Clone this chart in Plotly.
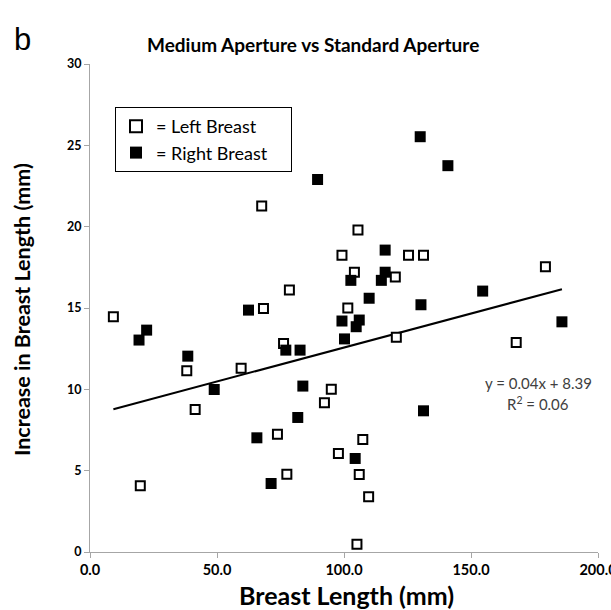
import plotly.graph_objects as go

# Left breast (open squares)
left_x = [9.2, 19.8, 38.1, 41.4, 59.5, 67.6, 68.3, 73.8, 76.2, 77.5, 78.5, 92.3, 95.0, 97.8,
          99.2, 101.5, 104.1, 105.5, 105.1, 106.0, 107.4, 109.7, 120.2, 120.6, 125.4, 131.3, 167.8, 179.3]
left_y = [14.46, 4.07, 11.14, 8.76, 11.29, 21.27, 14.97, 7.24, 12.82, 4.78, 16.1, 9.17, 10.0, 6.06,
          18.25, 15.0, 17.2, 19.8, 0.48, 4.77, 6.92, 3.39, 16.9, 13.2, 18.25, 18.25, 12.88, 17.53]

# Right breast (filled squares)
right_x = [19.3, 22.3, 38.5, 48.9, 62.4, 65.7, 71.3, 77.1, 82.7, 81.8, 83.8, 89.6, 99.2, 100.2,
           102.7, 104.4, 104.8, 106.0, 109.9, 114.7, 116.2, 116.2, 130.0, 130.3, 131.3, 140.9, 154.6, 185.8]
right_y = [13.03, 13.64, 12.04, 9.99, 14.87, 7.02, 4.21, 12.41, 12.41, 8.27, 10.2, 22.9, 14.2, 13.1,
           16.7, 5.75, 13.85, 14.26, 15.6, 16.7, 17.2, 18.56, 25.53, 15.2, 8.68, 23.75, 16.04, 14.15]

x_ticks = [0, 50, 100, 150, 200]
x_tick_labels = ["0.0", "50.0", "100.0", "150.0", "200.0"]
y_ticks = [0, 5, 10, 15, 20, 25, 30]

# Linear trend line (shown rounded as y = 0.04x + 8.39)
trend_slope = 0.0418
trend_intercept = 8.39
equation_text = "y = 0.04x + 8.39"
r2_text = "R<sup>2</sup> = 0.06"

all_x = left_x + right_x
trend_x = [min(all_x), max(all_x)]
trend_y = [trend_slope * v + trend_intercept for v in trend_x]

FONT = "Lato, 'Open Sans', sans-serif"
PAD = "\u00a0" * 4  # extra room on the right of the legend box

fig = go.Figure()
fig.add_trace(go.Scatter(
    x=trend_x, y=trend_y, mode="lines", line=dict(color="black", width=2),
    showlegend=False, hoverinfo="skip"))
fig.add_trace(go.Scatter(
    x=left_x, y=left_y, mode="markers", name="= Left Breast" + PAD,
    marker=dict(symbol="square", size=9, color="white", line=dict(color="black", width=2))))
fig.add_trace(go.Scatter(
    x=right_x, y=right_y, mode="markers", name="= Right Breast" + PAD,
    marker=dict(symbol="square", size=11, color="black", line=dict(color="black", width=0))))

L, R, T, B = 90, 13, 64, 58
W, H = 611, 610
pw = W - L - R
ph = H - T - B

def px_x(p):
    return (p - L) / pw

def px_y(p):
    return (H - B - p) / ph

fig.update_layout(
    width=W, height=H, autosize=False,
    margin=dict(l=L, r=R, t=T, b=B, pad=0, autoexpand=False),
    paper_bgcolor="white", plot_bgcolor="white",
    font=dict(family=FONT, color="black"),
    showlegend=True,
    legend=dict(x=px_x(115), y=px_y(107), xanchor="left", yanchor="top",
                bordercolor="black", borderwidth=1, bgcolor="white",
                font=dict(size=18, family=FONT, color="black"),
                itemsizing="constant", tracegroupgap=0),
    xaxis=dict(range=[0, 200], tickvals=x_ticks, ticktext=x_tick_labels, automargin=False,
               showgrid=False, zeroline=False, showline=True, linecolor="#a6a6a6", linewidth=1,
               ticks="outside", ticklen=5, tickcolor="#a6a6a6", ticklabeloverflow="allow",
               tickfont=dict(size=14.5, family=FONT, color="black", weight="bold")),
    yaxis=dict(range=[0, 30], tickvals=y_ticks, automargin=False,
               showgrid=False, zeroline=False, showline=True, linecolor="#a6a6a6", linewidth=1,
               ticks="outside", ticklen=5, tickcolor="#a6a6a6",
               tickfont=dict(size=12.5, family=FONT, color="black", weight="bold")),
)

annotations = [
    dict(text="Medium Aperture vs Standard Aperture", x=px_x(313), y=px_y(44),
         font=dict(size=19, family=FONT, color="black", weight="bold")),
    dict(text="b", x=px_x(22), y=px_y(40),
         font=dict(size=31, family="Liberation Sans, Arial, sans-serif", color="black")),
    dict(text="Breast Length (mm)", x=px_x(346), y=px_y(595),
         font=dict(size=25, family=FONT, color="black", weight="bold")),
    dict(text="Increase in Breast Length (mm)", x=px_x(22), y=px_y(310), textangle=-90,
         font=dict(size=21.5, family=FONT, color="black", weight="bold")),
    dict(text=equation_text, x=px_x(538), y=px_y(383),
         font=dict(size=15, family=FONT, color="#404040")),
    dict(text=r2_text, x=px_x(538), y=px_y(403),
         font=dict(size=15, family=FONT, color="#404040")),
]
for a in annotations:
    a.update(xref="paper", yref="paper", xanchor="center", yanchor="middle", showarrow=False)
fig.update_layout(annotations=annotations)

fig.write_html("out.html", config={"displayModeBar": False},
               post_script="document.body.style.margin='0';document.body.style.overflow='hidden';")
